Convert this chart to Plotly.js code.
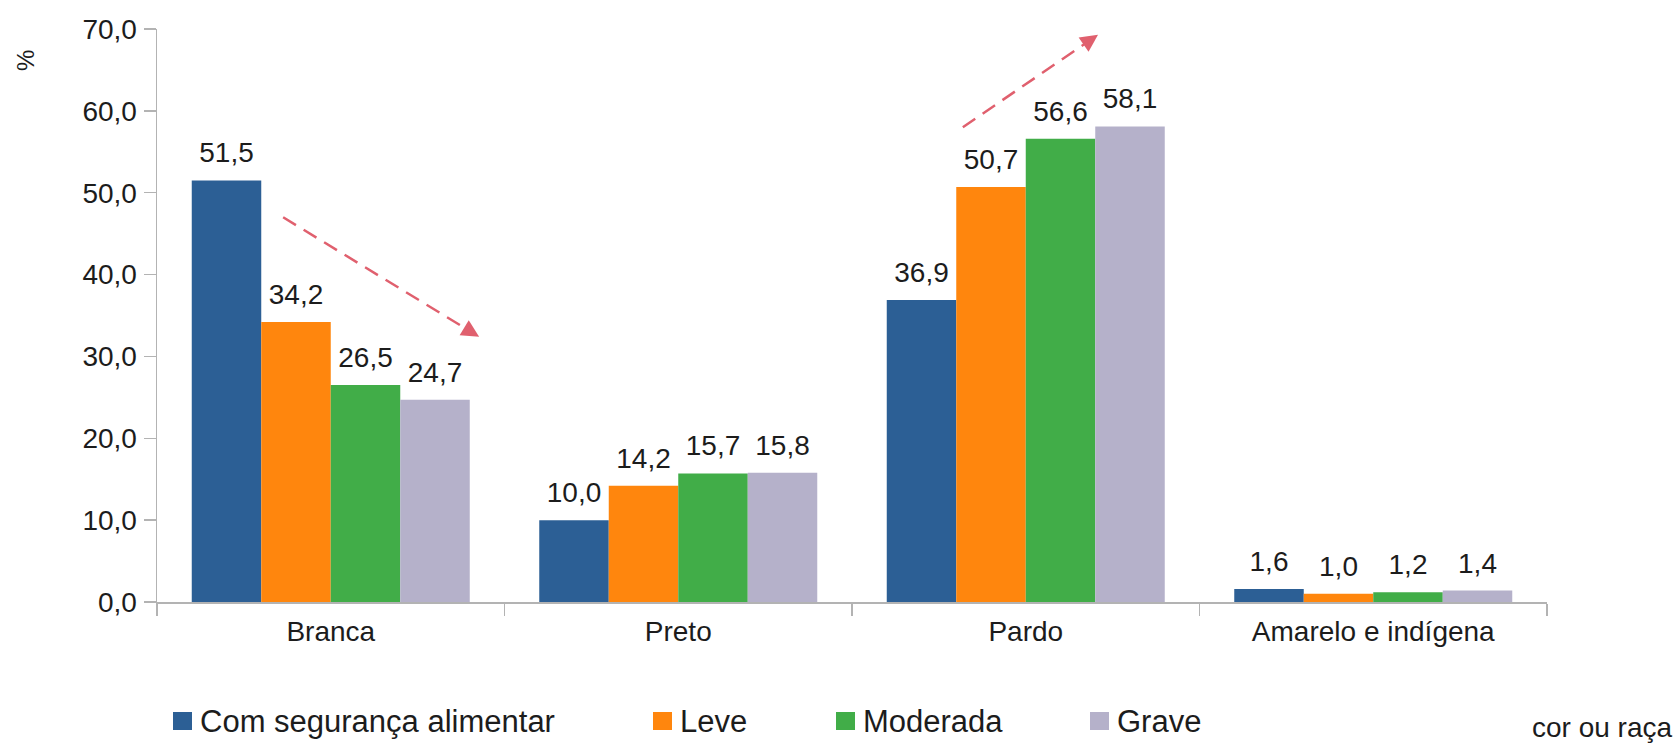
<!DOCTYPE html>
<html>
<head>
<meta charset="utf-8">
<script src="https://cdn.plot.ly/plotly-3.0.1.min.js"></script>
<style>
  html, body { margin: 0; padding: 0; background: #fff; }
  #chart { width: 1679px; height: 745px; }
</style>
</head>
<body>
<div id="chart"></div>
<script>
const categories = ["Branca", "Preto", "Pardo", "Amarelo e indígena"];
const seriesNames = ["Com segurança alimentar", "Leve", "Moderada", "Grave"];
const comSeguranca = [51.5, 10.0, 36.9, 1.6];
const leve = [34.2, 14.2, 50.7, 1.0];
const moderada = [26.5, 15.7, 56.6, 1.2];
const grave = [24.7, 15.8, 58.1, 1.4];
const yTickValues = [0, 10, 20, 30, 40, 50, 60, 70];

const seriesValues = [comSeguranca, leve, moderada, grave];
const seriesColors = ["#2c5f95", "#ff860d", "#41ad48", "#b5b1ca"];
const textColor = "#1c1c1c";
const axisColor = "#b3b3b3";
const arrowColor = "#e0606e";

// plot box in pixels, used to place the hand-made legend
const box = { l: 157, r: 132, t: 29, b: 143, w: 1679, h: 745 };
const plotW = box.w - box.l - box.r;
const plotH = box.h - box.t - box.b;
const px = x => (x - box.l) / plotW;
const py = y => (box.h - box.b - y) / plotH;

const bars = seriesValues.map((vals, i) => ({
  type: "bar",
  name: seriesNames[i],
  x: categories,
  y: vals,
  marker: { color: seriesColors[i] },
  hoverinfo: "none"
}));

// value labels, grouped like the bars so they sit over each one
const labels = seriesValues.map((vals, i) => ({
  type: "scatter",
  mode: "markers+text",
  x: categories,
  y: vals,
  texttemplate: "%{y:.1f}",
  textposition: "top center",
  textfont: { size: 28, color: textColor },
  marker: { size: 16, opacity: 0 },
  cliponaxis: false,
  showlegend: false,
  hoverinfo: "none"
}));

const arrows = [
  { x0: -0.137, y0: 47.0, x1: 0.427, y1: 32.4, k: 0.93 },
  { x0: 1.819, y0: 58.0, x1: 2.208, y1: 69.3, k: 0.9 }
];

const shapes = arrows.map(a => ({
  type: "line", xref: "x", yref: "y",
  x0: a.x0, y0: a.y0,
  x1: a.x0 + (a.x1 - a.x0) * a.k, y1: a.y0 + (a.y1 - a.y0) * a.k,
  line: { color: arrowColor, width: 2.5, dash: "15px,9px" }
}));

const annotations = arrows.map(a => ({
  xref: "x", yref: "y", axref: "x", ayref: "y",
  x: a.x1, y: a.y1,
  ax: a.x0 + (a.x1 - a.x0) * a.k, ay: a.y0 + (a.y1 - a.y0) * a.k,
  text: "", showarrow: true,
  arrowhead: 2, arrowsize: 1.4, arrowwidth: 2.5, arrowcolor: arrowColor
}));

// legend
const legendX = [173, 653, 836, 1090];
const legendY = 721;
seriesNames.forEach((name, i) => {
  shapes.push({
    type: "rect", xref: "paper", yref: "paper",
    x0: px(legendX[i]), x1: px(legendX[i] + 19),
    y0: py(legendY + 9), y1: py(legendY - 9),
    fillcolor: seriesColors[i], line: { width: 0 }
  });
  annotations.push({
    xref: "paper", yref: "paper",
    x: px(legendX[i] + 25), y: py(legendY),
    xanchor: "left", yanchor: "middle",
    text: name, showarrow: false,
    font: { size: 31, color: textColor }
  });
});

annotations.push({
  xref: "paper", yref: "paper",
  x: px(25), y: py(61), xanchor: "center", yanchor: "middle",
  text: "%", textangle: -90, showarrow: false,
  font: { size: 24, color: textColor }
});
annotations.push({
  xref: "paper", yref: "paper",
  x: px(1674), y: py(727), xanchor: "right", yanchor: "middle",
  text: "cor ou raça", showarrow: false,
  font: { size: 28, color: textColor }
});

const layout = {
  width: box.w,
  height: box.h,
  margin: { l: box.l, r: box.r, t: box.t, b: box.b, pad: 0 },
  paper_bgcolor: "#ffffff",
  plot_bgcolor: "#ffffff",
  font: { family: "Liberation Sans, Arial, sans-serif", size: 28, color: textColor },
  separators: ",.",
  barmode: "group",
  bargap: 0.2,
  bargroupgap: 0,
  scattermode: "group",
  scattergap: 0.2,
  showlegend: false,
  xaxis: {
    type: "category",
    tickson: "boundaries",
    ticks: "outside",
    ticklen: 12,
    tickwidth: 1.5,
    tickcolor: axisColor,
    showline: true,
    linecolor: axisColor,
    linewidth: 1.5,
    showgrid: false,
    zeroline: false,
    tickfont: { size: 28, color: textColor },
    ticklabelstandoff: 4
  },
  yaxis: {
    range: [0, 70],
    tickvals: yTickValues,
    tickformat: ".1f",
    ticks: "outside",
    ticklen: 12,
    tickwidth: 1.5,
    tickcolor: axisColor,
    showline: true,
    linecolor: axisColor,
    linewidth: 1.5,
    showgrid: false,
    zeroline: false,
    tickfont: { size: 28, color: textColor },
    ticklabelstandoff: 1
  },
  shapes: shapes,
  annotations: annotations
};

Plotly.newPlot("chart", [...bars, ...labels], layout, { displayModeBar: false, staticPlot: true });
</script>
</body>
</html>
